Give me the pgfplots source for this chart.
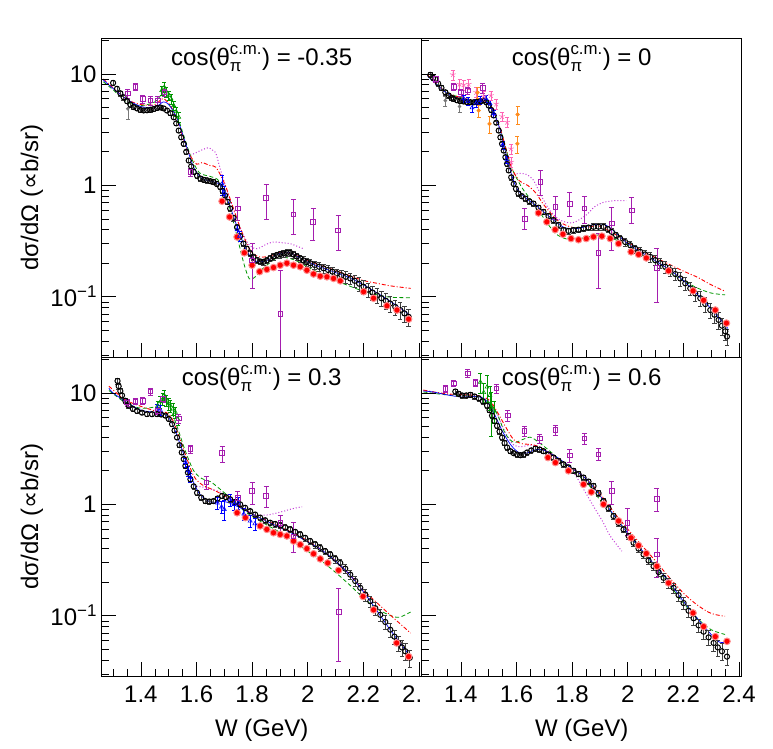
\documentclass[border=0pt]{standalone}
\usepackage{fontspec}
\setmainfont{Liberation Sans}
\newfontfamily\dejavu{DejaVu Sans}
\usepackage{amsmath}
\usepackage{pgfplots}
\pgfplotsset{compat=1.18}
\definecolor{rpurple}{RGB}{165,30,175}
\definecolor{rgreen}{RGB}{0,150,0}
\definecolor{rpink}{RGB}{255,100,180}
\definecolor{rorange}{RGB}{255,140,30}
\definecolor{rmag}{RGB}{195,60,215}
\definecolor{rgray}{RGB}{120,120,120}
\newcommand{\ttlfont}{\fontsize{24}{28}\selectfont}
\pgfplotsset{
 myPanel/.style={
  scale only axis, width=320pt, height=319pt,
  xmin=1.259, xmax=2.41, ymin=0.0288, ymax=21,
  xtick={1.4,1.6,1.8,2.0,2.2,2.4},
  minor xtick={1.3,1.35,1.45,1.5,1.55,1.65,1.7,1.75,1.85,1.9,1.95,2.05,2.1,2.15,2.25,2.3,2.35},
  ytick={0.1,1,10},
  minor ytick={0.03,0.04,0.05,0.06,0.07,0.08,0.09,0.2,0.3,0.4,0.5,0.6,0.7,0.8,0.9,2,3,4,5,6,7,8,9,20},
  tick pos=left, tick align=inside,
  major tick length=14pt, minor tick length=7.5pt,
  tick style={black, line width=0.6pt},
  axis line style={line width=0.8pt},
  axis on top,
  tick label style={font=\ttlfont},
  label style={font=\ttlfont},
  xticklabel style={anchor=base, yshift=-26pt},
  yticklabel style={inner sep=0pt, xshift=-5pt},
  yticklabels={{10\raisebox{9pt}{\fontsize{17}{17}\selectfont −1}},1,10},
  xticklabels={1.4,1.6,1.8,2,2.2,2.4},
  xlabel style={at={(axis description cs:0.5,-0.19)}, anchor=base},
  ylabel style={at={(axis description cs:-0.218,0.5)}, anchor=center},
 },
 myBlk/.style={only marks, mark=o, mark size=2.6pt, black, line width=1pt,
   error bars/y dir=both, error bars/y explicit relative,
   error bars/error bar style={black!75, line width=0.8pt}, error bars/error mark options={rotate=90, mark size=2.2pt, black!75}},
 myRed/.style={only marks, mark=*, mark size=3.3pt, mark options={fill=red, draw=red!45, line width=1pt}},
 myPurp/.style={only marks, mark=square, mark size=2.3pt, rpurple, line width=0.7pt,
   error bars/y dir=both, error bars/y explicit,
   error bars/error bar style={rpurple, line width=0.8pt}, error bars/error mark options={rotate=90, mark size=2.5pt, rpurple}},
 myErr/.style={only marks, mark=#1, mark size=2.3pt, line width=0.6pt,
   error bars/y dir=both, error bars/y explicit,
   error bars/error bar style={line width=0.6pt}, error bars/error mark options={rotate=90, mark size=2pt}},
 myRel/.style={only marks, mark=#1, mark size=2.3pt, line width=0.6pt,
   error bars/y dir=both, error bars/y explicit relative,
   error bars/error bar style={line width=0.6pt}, error bars/error mark options={rotate=90, mark size=2pt}},
 myCblue/.style={blue, line width=0.7pt, smooth, no marks},
 myCred/.style={red, line width=0.9pt, smooth, no marks, dash pattern=on 4pt off 2pt on 1pt off 2pt},
 myCgreen/.style={rgreen, line width=0.8pt, smooth, no marks, dash pattern=on 4pt off 2.5pt},
 myCmag/.style={rmag, line width=1pt, smooth, no marks, dash pattern=on 1pt off 2pt},
}
\begin{document}
\begin{tikzpicture}
\useasboundingbox (0pt,0pt) rectangle (773pt,748pt);
% ---------------- panel 1: cos = -0.35
\begin{axis}[ymode=log, myPanel, at={(101.7pt,391pt)}, anchor=south west, xticklabels={},
  ylabel={dσ/dΩ ({\dejavu ∝}b/sr)}]
\addplot[myCmag] coordinates {(1.578,1.86)(1.60,1.97)(1.614,2.05)(1.63,2.13)(1.645,2.17)(1.66,2.05)(1.67,1.93)(1.687,1.36)(1.72,0.75)(1.76,0.40)(1.79,0.29)(1.818,0.27)(1.85,0.295)(1.877,0.31)(1.91,0.305)(1.937,0.30)(1.96,0.285)(1.985,0.27)};
\addplot[myCgreen] coordinates {(1.265,8.5)(1.30,7.2)(1.35,5.6)(1.40,5.2)(1.45,5.6)(1.48,6.8)(1.50,6.8)(1.52,5.2)(1.55,3.0)(1.58,1.8)(1.61,1.3)(1.65,1.2)(1.68,1.1)(1.71,0.75)(1.74,0.40)(1.77,0.2)(1.79,0.145)(1.81,0.15)(1.84,0.18)(1.88,0.215)(1.92,0.225)(1.96,0.21)(2.0,0.185)(2.05,0.16)(2.1,0.14)(2.15,0.125)(2.2,0.112)(2.25,0.104)(2.3,0.099)(2.37,0.098)};
\addplot[myCred] coordinates {(1.265,9.0)(1.30,7.5)(1.35,5.9)(1.40,5.3)(1.45,5.3)(1.48,6.0)(1.51,5.0)(1.54,3.3)(1.57,2.0)(1.60,1.55)(1.62,1.6)(1.65,1.5)(1.67,1.45)(1.70,1.05)(1.73,0.65)(1.76,0.40)(1.79,0.27)(1.82,0.23)(1.86,0.23)(1.90,0.25)(1.95,0.24)(2.0,0.21)(2.05,0.19)(2.1,0.172)(2.15,0.155)(2.2,0.14)(2.25,0.132)(2.3,0.125)(2.37,0.119)};
\addplot[myCblue] coordinates {(1.265,8.8)(1.30,7.4)(1.35,5.9)(1.40,5.1)(1.45,5.0)(1.48,5.6)(1.50,5.3)(1.53,4.0)(1.56,2.4)(1.59,1.45)(1.62,1.15)(1.66,1.08)(1.69,0.98)(1.72,0.65)(1.75,0.40)(1.78,0.26)(1.81,0.21)(1.85,0.21)(1.90,0.245)(1.94,0.245)(2.0,0.205)(2.05,0.183)(2.1,0.165)(2.15,0.148)(2.2,0.128)(2.25,0.108)(2.3,0.09)(2.37,0.068)};
\addplot[myErr=*, rgray, mark size=1.5pt] table[x=x,y=y,y error plus=ep,y error minus=em] {
x y ep em
1.353 4.87 1.1 0.92
};
\addplot[myBlk] table[x=x,y=y,y error=e] {
x y e
1.300 8.3 .05
1.314 7.35 .05
1.326 6.7 .05
1.338 6.17 .05
1.350 5.7 .05
1.362 5.3 .05
1.374 5.05 .04
1.386 4.9 .04
1.398 4.76 .04
1.410 4.70 .04
1.422 4.72 .04
1.434 4.76 .04
1.446 4.85 .04
1.458 4.95 .04
1.470 5.0 .04
1.482 4.9 .04
1.494 4.69 .04
1.506 4.45 .04
1.518 4.08 .04
1.527 3.6 .04
1.536 3.1 .04
1.545 2.7 .04
1.554 2.36 .04
1.563 2.0 .04
1.572 1.67 .04
1.581 1.48 .05
1.590 1.32 .05
1.602 1.22 .05
1.614 1.15 .05
1.626 1.12 .05
1.638 1.11 .05
1.650 1.09 .05
1.661 1.07 .05
1.673 1.03 .05
1.685 0.97 .05
1.694 0.89 .05
1.703 0.81 .05
1.712 0.71 .05
1.721 0.62 .05
1.733 0.51 .06
1.746 0.42 .06
1.757 0.35 .06
1.769 0.30 .06
1.781 0.27 .06
1.793 0.245 .06
1.805 0.226 .06
1.818 0.213 .06
1.830 0.207 .06
1.841 0.206 .06
1.853 0.212 .06
1.865 0.221 .06
1.877 0.230 .07
1.889 0.237 .07
1.901 0.241 .07
1.913 0.245 .07
1.925 0.248 .07
1.937 0.248 .07
1.949 0.240 .07
1.961 0.230 .07
1.973 0.221 .07
1.985 0.212 .08
1.997 0.205 .08
2.009 0.200 .08
2.025 0.193 .08
2.041 0.186 .09
2.057 0.180 .09
2.073 0.174 .1
2.089 0.168 .1
2.105 0.162 .1
2.121 0.156 .12
2.137 0.151 .12
2.153 0.146 .12
2.169 0.139 .12
2.185 0.131 .14
2.201 0.123 .14
2.217 0.116 .14
2.233 0.109 .15
2.249 0.103 .15
2.265 0.097 .15
2.281 0.092 .16
2.297 0.087 .16
2.315 0.081 .16
2.333 0.076 .17
2.348 0.071 .17
2.363 0.066 .17
};
\addplot[myRed] table {
x y
1.692 0.72
1.719 0.52
1.746 0.344
1.772 0.248
1.800 0.192
1.827 0.168
1.853 0.176
1.877 0.183
1.901 0.192
1.925 0.200
1.949 0.192
1.973 0.186
1.997 0.173
2.021 0.160
2.045 0.153
2.069 0.151
2.093 0.146
2.117 0.139
2.201 0.111
2.237 0.097
2.285 0.083
2.321 0.076
2.363 0.063
};
\addplot[myRel=triangle, rgreen] table[x=x,y=y,y error=e] {
x y e
1.475 7.1 .1
1.484 7.6 .1
1.492 6.9 .1
1.500 6.4 .1
1.508 6.0 .1
1.518 5.2 .1
1.527 4.6 .1
1.536 4.1 .1
};
\addplot[myRel=triangle, blue] table[x=x,y=y,y error=e] {
x y e
1.692 1.03 .2
1.700 0.85 .15
1.746 0.40 .1
1.755 0.35 .1
};
\addplot[myPurp] table[x=x,y=y,y error plus=ep,y error minus=em] {
x y ep em
1.353 6.7 0.6 0.6
1.380 7.7 0.5 0.5
1.407 5.97 0.5 0.5
1.434 5.77 0.5 0.5
1.460 5.77 0.5 0.5
1.484 6.84 0.5 0.5
1.578 1.32 0.1 0.1
1.748 0.62 0.165 0.134
1.800 0.213 0.09 0.094
1.850 0.77 0.26 0.27
1.901 0.070 0.103 0.065
1.949 0.547 0.21 0.18
2.019 0.469 0.15 0.15
2.109 0.395 0.145 0.135
};
\node[anchor=base, font=\ttlfont] at (rel axis cs:0.5,0.915) {cos($\text{θ}^{\text{c.m.}}_{\text{π}}$) = -0.35};
\end{axis}
% ---------------- panel 2: cos = 0
\begin{axis}[ymode=log, myPanel, at={(421.7pt,391pt)}, anchor=south west, xticklabels={}, yticklabels={}]
\addplot[myCmag] coordinates {(1.59,1.25)(1.61,1.28)(1.637,1.25)(1.66,1.12)(1.68,0.9)(1.71,0.65)(1.75,0.5)(1.80,0.46)(1.85,0.54)(1.88,0.64)(1.91,0.70)(1.935,0.72)(1.96,0.73)(1.995,0.73)};
\addplot[myCgreen] coordinates {(1.28,9.8)(1.35,6.8)(1.45,5.7)(1.50,5.6)(1.54,3.3)(1.58,1.5)(1.62,0.95)(1.66,0.7)(1.7,0.5)(1.74,0.37)(1.78,0.33)(1.82,0.33)(1.87,0.35)(1.91,0.36)(1.95,0.33)(2.0,0.29)(2.05,0.24)(2.1,0.2)(2.15,0.165)(2.2,0.14)(2.25,0.12)(2.3,0.108)(2.35,0.104)};
\addplot[myCred] coordinates {(1.28,9.8)(1.35,6.8)(1.45,5.7)(1.50,5.5)(1.54,3.3)(1.58,1.5)(1.61,1.1)(1.64,1.0)(1.67,0.85)(1.7,0.66)(1.75,0.48)(1.8,0.42)(1.85,0.42)(1.9,0.43)(1.95,0.37)(2.0,0.31)(2.05,0.26)(2.1,0.225)(2.15,0.195)(2.2,0.17)(2.25,0.15)(2.3,0.128)(2.35,0.112)};
\addplot[myCblue] coordinates {(1.28,9.6)(1.30,8.6)(1.35,6.7)(1.40,5.9)(1.45,5.6)(1.48,5.7)(1.50,5.4)(1.52,4.4)(1.54,3.2)(1.56,2.0)(1.58,1.3)(1.60,0.95)(1.63,0.78)(1.67,0.66)(1.72,0.52)(1.77,0.42)(1.82,0.41)(1.87,0.44)(1.91,0.45)(1.94,0.41)(1.97,0.35)(2.0,0.30)(2.05,0.25)(2.1,0.21)(2.15,0.175)(2.2,0.14)(2.25,0.105)(2.3,0.078)(2.36,0.052)};
\addplot[myErr=*, rgray, mark size=1.5pt] table[x=x,y=y,y error plus=ep,y error minus=em] {
x y ep em
1.344 5.77 0.6 0.6
1.395 5.1 0.6 0.6
};
\addplot[myBlk] table[x=x,y=y,y error=e] {
x y e
1.290 9.8 .05
1.300 9.2 .05
1.308 9.0 .05
1.318 8.2 .05
1.330 7.5 .05
1.344 6.84 .05
1.356 6.4 .05
1.366 6.1 .04
1.374 5.97 .04
1.386 5.8 .04
1.398 5.7 .04
1.410 5.65 .04
1.422 5.6 .04
1.434 5.57 .04
1.446 5.56 .04
1.458 5.6 .04
1.470 5.68 .04
1.482 5.77 .04
1.491 5.6 .04
1.500 5.2 .04
1.509 4.75 .04
1.518 4.24 .04
1.527 3.65 .04
1.536 3.1 .04
1.542 2.7 .04
1.548 2.36 .04
1.554 2.05 .04
1.560 1.79 .04
1.566 1.56 .04
1.572 1.36 .04
1.581 1.18 .05
1.590 1.03 .05
1.598 0.93 .05
1.607 0.843 .05
1.619 0.80 .05
1.632 0.76 .05
1.646 0.72 .05
1.661 0.686 .05
1.679 0.63 .05
1.697 0.577 .05
1.715 0.53 .05
1.733 0.486 .06
1.751 0.44 .06
1.769 0.396 .06
1.787 0.39 .06
1.805 0.396 .06
1.823 0.40 .06
1.841 0.41 .06
1.859 0.418 .06
1.877 0.424 .07
1.895 0.425 .07
1.913 0.424 .07
1.928 0.405 .07
1.943 0.382 .07
1.958 0.357 .07
1.973 0.333 .07
1.991 0.31 .08
2.009 0.29 .08
2.027 0.27 .08
2.045 0.253 .09
2.063 0.24 .09
2.081 0.228 .1
2.099 0.213 .1
2.117 0.20 .1
2.135 0.186 .12
2.153 0.173 .12
2.171 0.16 .12
2.189 0.146 .14
2.207 0.132 .14
2.225 0.119 .14
2.243 0.107 .15
2.261 0.097 .15
2.279 0.086 .16
2.297 0.076 .16
2.312 0.069 .16
2.327 0.062 .17
2.339 0.055 .17
2.351 0.049 .17
2.357 0.044 .17
};
\addplot[myRed] table {
x y
1.679 0.565
1.709 0.47
1.739 0.40
1.767 0.364
1.796 0.333
1.823 0.325
1.851 0.333
1.877 0.345
1.907 0.35
1.937 0.333
1.967 0.30
2.012 0.253
2.039 0.24
2.067 0.223
2.147 0.171
2.235 0.113
2.273 0.093
2.315 0.076
2.355 0.058
};
\addplot[myRel=triangle, blue] table[x=x,y=y,y error=e] {
x y e
1.410 6.0 .08
1.425 5.7 .08
1.440 4.97 .08
1.455 5.5 .08
1.470 5.8 .08
1.490 6.0 .08
1.505 5.4 .08
1.518 4.4 .08
1.550 2.3 .08
1.565 1.7 .08
};
\addplot[myRel=star, rpink, mark size=3pt] table[x=x,y=y,y error=e] {
x y e
1.371 9.85 .1
1.395 8.1 .1
1.410 8.0 .1
1.428 8.1 .1
1.455 6.84 .1
1.482 6.3 .1
1.508 6.4 .1
1.527 5.38 .1
1.548 4.15 .1
1.566 3.69 .1
1.580 2.13 .1
1.581 1.62 .1
};
\addplot[myErr=*, rorange, mark size=1.8pt] table[x=x,y=y,y error plus=ep,y error minus=em] {
x y ep em
1.460 6.8 0.8 0.8
1.464 4.69 0.6 0.6
1.503 3.56 0.6 0.6
1.604 4.33 0.8 0.8
1.603 2.36 0.4 0.4
};
\addplot[myPurp] table[x=x,y=y,y error plus=ep,y error minus=em] {
x y ep em
1.310 9.0 0.5 0.5
1.374 7.7 0.5 0.5
1.400 6.84 0.5 0.5
1.425 7.1 0.5 0.5
1.478 7.5 0.8 0.8
1.629 0.50 0.12 0.10
1.686 1.07 0.29 0.26
1.739 0.64 0.16 0.14
1.792 0.686 0.18 0.16
1.844 0.62 0.18 0.16
1.895 0.248 0.122 0.129
1.943 0.454 0.176 0.194
2.014 0.597 0.18 0.14
2.105 0.182 0.088 0.092
};
\node[anchor=base, font=\ttlfont] at (rel axis cs:0.5,0.915) {cos($\text{θ}^{\text{c.m.}}_{\text{π}}$) = 0};
\end{axis}
% ---------------- panel 3: cos = 0.3
\begin{axis}[ymode=log, myPanel, at={(101.7pt,72pt)}, anchor=south west,
  xticklabels={1.4,1.6,1.8,2,2.2,{2.\phantom{4}}},
  xlabel={W (GeV)}, ylabel={dσ/dΩ ({\dejavu ∝}b/sr)}]
\addplot[myCmag] coordinates {(1.60,1.45)(1.63,1.42)(1.66,1.35)(1.69,1.28)(1.72,1.15)(1.76,0.95)(1.80,0.82)(1.85,0.80)(1.9,0.85)(1.95,0.92)(1.98,0.95)};
\addplot[myCgreen] coordinates {(1.285,10.5)(1.35,8)(1.40,7.3)(1.45,7.5)(1.48,8.5)(1.50,7.8)(1.53,5)(1.56,3.0)(1.59,2.0)(1.62,1.7)(1.65,1.6)(1.68,1.4)(1.72,1.15)(1.76,0.92)(1.8,0.78)(1.85,0.66)(1.9,0.56)(1.95,0.46)(2.0,0.38)(2.05,0.31)(2.1,0.245)(2.15,0.19)(2.2,0.145)(2.25,0.115)(2.3,0.1)(2.33,0.097)(2.37,0.108)};
\addplot[myCred] coordinates {(1.285,11.5)(1.35,8.5)(1.45,6.9)(1.50,6.5)(1.53,4.6)(1.56,2.8)(1.59,1.8)(1.62,1.5)(1.66,1.35)(1.7,1.2)(1.75,1.0)(1.8,0.82)(1.85,0.72)(1.9,0.63)(1.95,0.55)(2.0,0.47)(2.05,0.39)(2.1,0.31)(2.15,0.235)(2.2,0.17)(2.25,0.13)(2.3,0.1)(2.37,0.07)};
\addplot[myCblue] coordinates {(1.285,11)(1.30,10)(1.35,8.2)(1.40,7.0)(1.45,6.7)(1.48,6.5)(1.50,6.0)(1.52,4.8)(1.55,3.0)(1.58,1.8)(1.61,1.25)(1.65,1.05)(1.7,1.06)(1.75,0.95)(1.8,0.82)(1.85,0.71)(1.9,0.62)(1.95,0.54)(2.0,0.46)(2.05,0.39)(2.1,0.31)(2.15,0.235)(2.2,0.165)(2.25,0.11)(2.3,0.073)(2.37,0.043)};
\addplot[myBlk] table[x=x,y=y,y error=e] {
x y e
1.316 12.8 .06
1.320 11.5 .06
1.326 10.4 .05
1.332 9.5 .05
1.344 8.5 .05
1.356 7.7 .05
1.371 7.2 .04
1.386 6.9 .04
1.404 6.65 .04
1.422 6.46 .04
1.440 6.45 .04
1.458 6.46 .04
1.473 6.4 .04
1.488 6.25 .04
1.500 5.85 .04
1.512 5.25 .04
1.521 4.6 .04
1.530 3.98 .04
1.539 3.4 .04
1.547 2.92 .04
1.554 2.55 .04
1.560 2.21 .04
1.569 1.93 .04
1.578 1.68 .04
1.590 1.45 .05
1.602 1.27 .05
1.617 1.15 .05
1.632 1.07 .05
1.646 1.06 .05
1.661 1.07 .05
1.676 1.13 .05
1.692 1.19 .05
1.706 1.16 .05
1.721 1.11 .05
1.739 1.05 .05
1.757 1.0 .05
1.775 0.93 .05
1.793 0.87 .05
1.811 0.81 .05
1.829 0.76 .05
1.847 0.72 .05
1.865 0.684 .05
1.883 0.665 .06
1.901 0.647 .06
1.919 0.62 .06
1.937 0.596 .06
1.955 0.566 .06
1.973 0.537 .06
1.991 0.50 .06
2.009 0.468 .06
2.027 0.437 .07
2.045 0.407 .07
2.063 0.38 .07
2.081 0.355 .08
2.099 0.325 .08
2.117 0.298 .08
2.135 0.265 .09
2.153 0.234 .09
2.171 0.205 .1
2.189 0.178 .1
2.207 0.155 .12
2.225 0.135 .12
2.243 0.117 .13
2.261 0.102 .13
2.279 0.088 .14
2.297 0.075 .15
2.312 0.065 .15
2.327 0.057 .16
2.339 0.052 .16
2.351 0.048 .17
2.367 0.042 .17
};
\addplot[myRed] table {
x y
1.746 0.84
1.776 0.76
1.829 0.64
1.853 0.596
1.877 0.556
1.901 0.537
1.925 0.52
1.949 0.468
1.973 0.435
1.997 0.40
2.021 0.36
2.045 0.324
2.072 0.298
2.111 0.256
2.199 0.149
2.237 0.113
2.320 0.057
2.363 0.043
};
\addplot[myRel=triangle, rgreen] table[x=x,y=y,y error=e] {
x y e
1.460 7.6 .12
1.470 8.35 .12
1.478 8.8 .12
1.484 9.5 .12
1.492 8.6 .12
1.500 8.0 .12
1.506 7.7 .12
1.515 7.2 .12
1.524 6.7 .12
1.533 5.8 .12
};
\addplot[myRel=triangle, blue] table[x=x,y=y,y error=e] {
x y e
1.458 7.2 .1
1.470 7.0 .1
1.560 2.38 .1
1.570 2.0 .1
1.578 1.74 .1
1.675 1.03 .12
1.690 0.95 .12
1.700 0.90 .2
1.721 1.10 .12
1.735 1.00 .12
1.750 1.03 .12
1.770 0.82 .12
1.793 0.71 .12
1.810 0.67 .12
};
\addplot[myPurp] table[x=x,y=y,y error plus=ep,y error minus=em] {
x y ep em
1.350 8.25 0.6 0.6
1.380 8.4 0.5 0.5
1.407 8.5 0.6 0.6
1.434 10.3 0.8 0.8
1.461 6.9 0.5 0.5
1.480 8.8 0.6 0.6
1.536 5.9 0.6 0.6
1.578 3.13 0.25 0.25
1.635 1.57 0.22 0.2
1.692 2.88 0.42 0.48
1.748 1.15 0.15 0.15
1.800 1.32 0.25 0.32
1.850 1.19 0.25 0.24
1.901 0.68 0.12 0.12
1.949 0.518 0.18 0.148
2.111 0.109 0.069 0.070
};
\node[anchor=base, font=\ttlfont] at (rel axis cs:0.5,0.912) {cos($\text{θ}^{\text{c.m.}}_{\text{π}}$) = 0.3};
\end{axis}
% ---------------- panel 4: cos = 0.6
\begin{axis}[ymode=log, myPanel, at={(421.7pt,72pt)}, anchor=south west, yticklabels={},
  xlabel={W (GeV)}]
\addplot[myCmag] coordinates {(1.265,10.5)(1.35,9.7)(1.45,9.5)(1.50,8.5)(1.53,6.5)(1.56,4.4)(1.59,3.4)(1.62,3.3)(1.65,3.4)(1.68,3.3)(1.72,2.85)(1.76,2.4)(1.805,1.93)(1.841,1.37)(1.877,0.96)(1.91,0.70)(1.937,0.52)(1.979,0.38)};
\addplot[myCgreen] coordinates {(1.265,10.2)(1.35,9.6)(1.45,9.3)(1.50,8.3)(1.53,6.5)(1.56,4.3)(1.59,3.6)(1.62,3.8)(1.65,4.0)(1.68,3.6)(1.72,3.0)(1.8,2.0)(1.85,1.6)(1.9,1.1)(1.95,0.8)(2.0,0.55)(2.05,0.38)(2.1,0.27)(2.15,0.19)(2.2,0.13)(2.25,0.095)(2.3,0.075)(2.35,0.068)};
\addplot[myCred] coordinates {(1.265,10.6)(1.35,9.8)(1.45,9.5)(1.50,8.7)(1.53,6.8)(1.56,5.0)(1.59,3.8)(1.62,3.5)(1.65,3.45)(1.68,3.3)(1.72,2.9)(1.8,2.1)(1.85,1.7)(1.9,1.25)(1.95,0.85)(2.0,0.6)(2.05,0.43)(2.1,0.31)(2.15,0.22)(2.2,0.16)(2.25,0.125)(2.3,0.105)(2.35,0.099)};
\addplot[myCblue] coordinates {(1.265,10.4)(1.30,10.2)(1.35,9.6)(1.40,9.2)(1.45,9.3)(1.48,9.0)(1.50,8.0)(1.52,6.5)(1.55,4.5)(1.58,3.4)(1.61,2.9)(1.64,2.9)(1.67,3.1)(1.70,3.05)(1.75,2.6)(1.8,2.1)(1.85,1.7)(1.9,1.2)(1.95,0.8)(2.0,0.55)(2.05,0.39)(2.1,0.28)(2.15,0.2)(2.2,0.135)(2.25,0.095)(2.3,0.068)(2.33,0.058)(2.36,0.058)};
\addplot[myBlk] table[x=x,y=y,y error=e] {
x y e
1.380 10.3 .05
1.392 9.8 .05
1.404 9.5 .05
1.419 9.5 .05
1.434 9.6 .05
1.449 9.3 .05
1.464 8.96 .05
1.479 8.4 .05
1.494 7.7 .05
1.503 7.0 .05
1.512 6.25 .05
1.521 5.6 .05
1.530 5.07 .05
1.539 4.5 .05
1.548 3.98 .05
1.557 3.55 .05
1.566 3.24 .05
1.578 3.0 .05
1.590 2.88 .05
1.602 2.8 .05
1.614 2.76 .05
1.626 2.8 .05
1.638 2.92 .05
1.653 3.05 .05
1.668 3.16 .05
1.683 3.1 .05
1.697 3.0 .05
1.715 2.8 .05
1.733 2.63 .05
1.751 2.45 .05
1.769 2.29 .05
1.787 2.15 .05
1.805 2.0 .05
1.823 1.87 .05
1.841 1.74 .05
1.859 1.6 .05
1.877 1.46 .06
1.895 1.26 .06
1.913 1.07 .06
1.931 0.92 .06
1.949 0.785 .06
1.967 0.68 .06
1.985 0.596 .06
2.003 0.52 .07
2.021 0.452 .07
2.039 0.40 .07
2.057 0.355 .08
2.075 0.313 .08
2.093 0.278 .08
2.111 0.247 .09
2.129 0.219 .09
2.147 0.197 .1
2.165 0.178 .1
2.183 0.153 .12
2.201 0.13 .12
2.219 0.111 .13
2.237 0.095 .13
2.255 0.082 .14
2.273 0.072 .15
2.291 0.064 .15
2.309 0.057 .16
2.324 0.052 .16
2.339 0.048 .17
2.357 0.043 .17
};
\addplot[myRed] table {
x y
1.713 2.63
1.740 2.37
1.787 2.0
1.841 1.51
1.869 1.29
1.913 1.0
1.967 0.71
2.012 0.50
2.039 0.427
2.067 0.362
2.105 0.278
2.147 0.197
2.235 0.106
2.273 0.080
2.315 0.065
2.357 0.059
};
\addplot[myErr=triangle, rgreen] table[x=x,y=y,y error plus=ep,y error minus=em] {
x y ep em
1.470 12.5 2.5 2.5
1.482 10.1 2.0 2.0
1.494 11.3 3.0 3.0
1.504 9.5 2.0 2.5
1.509 7.4 2.8 3.3
1.520 6.9 1.5 1.5
};
\addplot[myPurp] table[x=x,y=y,y error plus=ep,y error minus=em] {
x y ep em
1.344 10.9 0.8 0.8
1.374 12.2 0.8 0.8
1.425 15.0 1.2 1.2
1.452 12.3 0.9 0.9
1.527 11.0 1.0 1.0
1.569 6.3 0.7 0.7
1.628 4.57 0.45 0.45
1.684 3.9 0.35 0.35
1.740 4.64 0.5 0.5
1.792 2.76 0.35 0.35
1.844 3.9 0.45 0.45
1.895 2.82 0.35 0.35
1.943 1.32 0.30 0.32
1.999 0.684 0.23 0.16
2.105 1.12 0.27 0.25
2.105 0.355 0.145 0.135
};
\node[anchor=base, font=\ttlfont] at (rel axis cs:0.5,0.912) {cos($\text{θ}^{\text{c.m.}}_{\text{π}}$) = 0.6};
\end{axis}
\end{tikzpicture}
\end{document}
